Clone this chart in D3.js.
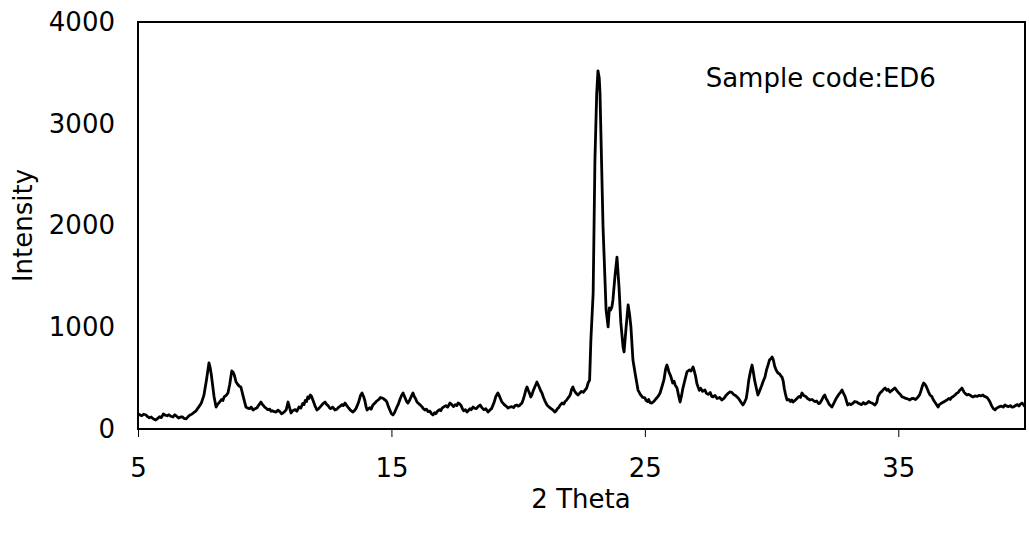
<!DOCTYPE html>
<html>
<head>
<meta charset="utf-8">
<script src="https://cdn.jsdelivr.net/npm/d3@7"></script>
<style>
  html, body { margin: 0; padding: 0; background: #fff; }
  svg text { font-family: "DejaVu Sans", Verdana, sans-serif; fill: #000; }
</style>
</head>
<body>
<svg id="chart" width="1029" height="534"></svg>
<script>
// XRD scan: [2θ, intensity] pairs
const scan = [
[5.0,150],[5.08,138],[5.15,130],[5.22,145],[5.3,140],[5.38,122],[5.45,110],[5.52,118],[5.6,100],[5.7,88],
[5.78,105],[5.85,120],[5.92,112],[6.0,147],[6.08,135],[6.15,130],[6.22,140],[6.3,125],[6.38,118],[6.45,140],
[6.52,126],[6.6,108],[6.68,118],[6.75,120],[6.82,104],[6.9,100],[6.98,122],[7.05,138],[7.12,145],[7.2,160],
[7.28,175],[7.35,200],[7.42,225],[7.5,255],
[7.6,330],[7.7,480],[7.8,650],[7.85,600],[7.9,520],[8.0,320],[8.08,216],[8.15,245],[8.2,260],[8.3,290],
[8.35,280],[8.4,315],[8.48,330],[8.55,354],[8.62,440],[8.7,570],[8.75,560],[8.8,530],[8.87,462],[8.93,440],
[9.0,420],[9.06,413],[9.15,320],[9.26,216],
[9.33,205],[9.4,200],[9.47,215],[9.54,187],[9.62,200],[9.7,210],[9.78,240],[9.85,265],[9.9,245],[9.95,230],
[10.0,215],[10.05,206],[10.12,190],[10.2,195],[10.25,175],[10.3,180],[10.38,170],[10.45,167],[10.52,185],[10.6,170],
[10.66,150],[10.72,157],[10.8,175],[10.85,190],[10.92,265],[10.97,220],[11.04,157],[11.1,180],[11.2,190],[11.27,175],
[11.35,216],[11.42,205],[11.5,250],[11.55,240],[11.6,280],[11.65,270],[11.7,315],[11.75,300],[11.8,334],[11.85,320],
[11.9,285],[11.98,230],[12.06,187],[12.13,200],[12.2,220],[12.3,250],[12.38,265],[12.45,240],[12.5,230],[12.55,210],
[12.6,200],[12.68,215],[12.77,187],[12.85,195],[12.9,210],[12.98,225],[13.05,240],[13.1,230],[13.17,255],[13.24,230],
[13.3,210],[13.38,185],[13.48,167],[13.54,180],[13.6,200],[13.65,230],[13.7,260],[13.78,330],[13.84,354],[13.9,320],
[13.95,280],[14.0,220],[14.04,187],[14.1,200],[14.15,210],[14.2,195],[14.27,236],[14.33,250],[14.4,270],[14.45,280],
[14.5,290],[14.57,310],[14.63,305],[14.68,300],[14.72,290],[14.78,280],[14.82,265],[14.88,220],[14.95,180],[15.0,150],
[15.06,138],[15.12,160],[15.2,206],[15.28,250],[15.35,300],[15.4,330],[15.46,354],[15.5,330],[15.55,300],[15.6,270],
[15.65,255],[15.7,275],[15.75,300],[15.8,330],[15.85,354],[15.9,320],[15.95,300],[16.0,270],[16.05,255],[16.12,240],
[16.2,220],[16.26,200],[16.32,187],[16.38,195],[16.45,170],[16.52,175],[16.58,150],[16.64,138],[16.7,160],[16.75,150],
[16.8,170],[16.9,190],[16.95,180],[17.0,206],[17.08,220],[17.15,230],[17.22,215],[17.31,255],[17.38,240],[17.45,220],
[17.52,240],[17.58,230],[17.63,255],[17.7,245],[17.75,230],[17.8,200],[17.85,180],[17.92,190],[17.98,167],[18.05,185],
[18.1,200],[18.15,190],[18.22,216],[18.28,205],[18.35,200],[18.42,220],[18.5,236],[18.57,210],[18.65,190],[18.72,200],
[18.81,167],[18.88,185],[18.95,200],[19.0,230],[19.05,260],[19.12,320],[19.2,354],[19.25,330],[19.3,300],[19.35,270],
[19.4,255],[19.45,240],[19.5,230],[19.55,220],[19.6,206],[19.67,215],[19.75,220],[19.82,210],[19.88,230],[19.95,236],
[20.0,225],[20.05,230],[20.1,245],[20.15,255],[20.2,290],[20.25,330],[20.3,380],[20.35,413],[20.4,380],[20.45,350],
[20.5,315],[20.55,340],[20.6,380],[20.67,420],[20.74,462],[20.8,430],[20.85,400],[20.9,370],[20.94,354],[21.0,310],
[21.05,280],[21.1,255],[21.14,236],[21.2,220],[21.25,210],[21.3,200],[21.38,185],[21.45,167],[21.5,180],[21.55,200],
[21.6,210],[21.66,235],[21.73,255],[21.8,245],[21.85,270],[21.9,280],[21.97,305],[22.02,320],[22.06,340],[22.11,390],
[22.16,413],[22.21,380],[22.26,360],[22.31,345],[22.36,334],[22.42,350],[22.5,370],[22.57,360],[22.64,383],[22.7,400],
[22.76,452],[22.82,480],
[22.87,875],[22.96,1337],[23.03,2644],[23.1,3300],[23.15,3520],[23.2,3450],[23.23,3302],[23.35,1985],[23.47,1170],[23.55,1003],
[23.6,1190],[23.65,1170],[23.7,1200],[23.74,1268],[23.82,1500],[23.9,1690],[23.98,1396],[24.05,1050],[24.14,806],[24.18,757],
[24.26,1000],[24.34,1219],[24.4,1120],[24.45,1003],[24.53,678],[24.62,540],[24.73,383],[24.8,350],[24.85,330],[24.92,310],
[25.0,305],[25.05,280],[25.1,270],[25.15,290],[25.2,260],[25.28,255],
[25.35,270],[25.45,300],[25.52,320],[25.6,354],[25.68,420],[25.75,480],[25.82,590],[25.87,629],[25.92,590],[25.95,560],
[26.02,520],[26.1,452],[26.15,470],[26.2,430],[26.27,403],[26.33,330],[26.39,265],[26.45,330],[26.5,400],[26.58,480],
[26.66,560],[26.7,570],[26.75,580],[26.82,570],[26.9,609],[26.95,570],[27.0,520],[27.05,450],[27.1,413],[27.15,380],
[27.2,400],[27.28,370],[27.37,383],[27.43,350],[27.5,340],[27.58,360],[27.64,320],[27.69,315],[27.77,330],[27.85,300],
[27.95,310],[28.04,285],[28.12,300],[28.2,330],[28.28,350],[28.36,364],[28.43,360],[28.5,340],[28.57,330],[28.64,315],
[28.7,300],[28.75,280],[28.8,260],[28.87,236],[28.93,260],[29.0,300],[29.05,380],[29.1,480],[29.17,570],[29.23,629],
[29.28,560],[29.33,480],[29.4,400],[29.46,334],[29.52,370],[29.6,420],[29.67,470],[29.74,511],[29.8,580],[29.85,620],
[29.92,680],[29.97,690],[30.02,708],[30.07,680],[30.12,620],[30.18,580],[30.25,550],[30.32,540],[30.37,520],[30.41,511],
[30.46,470],[30.5,400],[30.56,330],[30.61,285],[30.68,290],[30.75,270],[30.8,285],[30.85,265],[30.92,280],[31.0,300],
[31.08,320],[31.14,310],[31.2,354],[31.27,330],[31.35,320],[31.42,300],[31.52,285],[31.6,290],[31.7,270],[31.78,275],
[31.85,250],[31.91,255],[31.97,280],[32.05,320],[32.1,334],[32.15,300],[32.2,280],[32.28,240],[32.38,216],[32.45,250],
[32.55,300],[32.65,340],[32.72,360],[32.78,383],[32.84,350],[32.9,320],[32.95,280],[33.0,236],[33.07,250],[33.13,240],
[33.2,250],[33.28,270],[33.37,265],[33.45,250],[33.55,240],[33.62,260],[33.7,245],[33.77,255],[33.83,270],[33.9,260],
[34.0,250],[34.08,236],[34.15,260],[34.2,320],[34.28,354],[34.35,370],[34.42,390],[34.48,403],[34.55,380],[34.6,390],
[34.67,364],[34.75,380],[34.8,390],[34.87,403],[34.92,385],[35.0,360],[35.08,340],[35.15,315],[35.22,310],[35.3,300],
[35.38,295],[35.46,285],[35.53,300],[35.6,300],[35.68,290],[35.78,315],[35.85,340],[35.9,380],[35.96,430],[36.0,452],
[36.05,440],[36.1,420],[36.15,390],[36.2,360],[36.25,334],[36.32,320],[36.4,280],[36.48,250],[36.57,216],[36.62,240],
[36.68,250],[36.75,260],[36.82,270],[36.92,285],[37.0,300],[37.05,290],[37.1,310],[37.17,320],[37.24,334],[37.3,350],
[37.37,360],[37.42,380],[37.47,390],[37.51,403],[37.56,380],[37.6,360],[37.66,345],[37.71,334],[37.78,340],[37.85,330],
[37.9,320],[37.95,315],[38.02,325],[38.1,320],[38.18,330],[38.26,325],[38.34,334],[38.4,320],[38.46,315],[38.5,310],
[38.56,290],[38.62,265],[38.68,230],[38.75,200],[38.82,187],[38.88,205],[38.95,215],[39.0,220],[39.07,225],[39.14,215],
[39.21,236],[39.28,225],[39.35,220],[39.42,230],[39.48,215],[39.53,216],[39.6,225],[39.65,235],[39.7,240],[39.76,225],
[39.82,245],[39.88,255],[39.94,240],[40.0,220]
];
const xTicks = [5, 15, 25, 35];
const yTicks = [0, 1000, 2000, 3000, 4000];
const xLabel = "2 Theta";
const yLabel = "Intensity";
const annotation = "Sample code:ED6";

const svg = d3.select("#chart");
const m = {left: 138, right: 1025, top: 22, bottom: 429};
const x = d3.scaleLinear().domain([5, 40]).range([m.left, m.right]);
const y = d3.scaleLinear().domain([0, 4000]).range([m.bottom, m.top]);
const fs = 26;

// frame
svg.append("rect").attr("x", m.left).attr("y", m.top)
  .attr("width", m.right - m.left).attr("height", m.bottom - m.top)
  .attr("fill", "none").attr("stroke", "#000").attr("stroke-width", 2);

// x axis
const gx = svg.append("g").attr("transform", `translate(0,${m.bottom})`)
  .call(d3.axisBottom(x).tickValues(xTicks).tickSize(8).tickPadding(22).tickFormat(d3.format("d")));
gx.select(".domain").remove();
gx.selectAll(".tick line").attr("stroke", "#000").attr("stroke-width", 1);
gx.selectAll(".tick text").attr("font-size", fs).attr("font-family", "DejaVu Sans");

// y axis
const gy = svg.append("g").attr("transform", `translate(${m.left},0)`)
  .call(d3.axisLeft(y).tickValues(yTicks).tickSize(0).tickPadding(23).tickFormat(d3.format("d")));
gy.select(".domain").remove();
gy.selectAll(".tick text").attr("font-size", fs).attr("font-family", "DejaVu Sans");

// line
svg.append("path").datum(scan)
  .attr("fill", "none").attr("stroke", "#000").attr("stroke-width", 2.8)
  .attr("stroke-linejoin", "round")
  .attr("d", d3.line().x(d => x(d[0])).y(d => y(d[1])));

// labels
svg.append("text").attr("x", 581).attr("y", 508)
  .attr("text-anchor", "middle").attr("font-size", fs).text(xLabel);
svg.append("text").attr("transform", `translate(32,${(m.top + m.bottom) / 2}) rotate(-90)`)
  .attr("text-anchor", "middle").attr("font-size", fs).text(yLabel);
svg.append("text").attr("x", x(27.4)).attr("y", y(3360))
  .attr("font-size", fs).text(annotation);
</script>
</body>
</html>
